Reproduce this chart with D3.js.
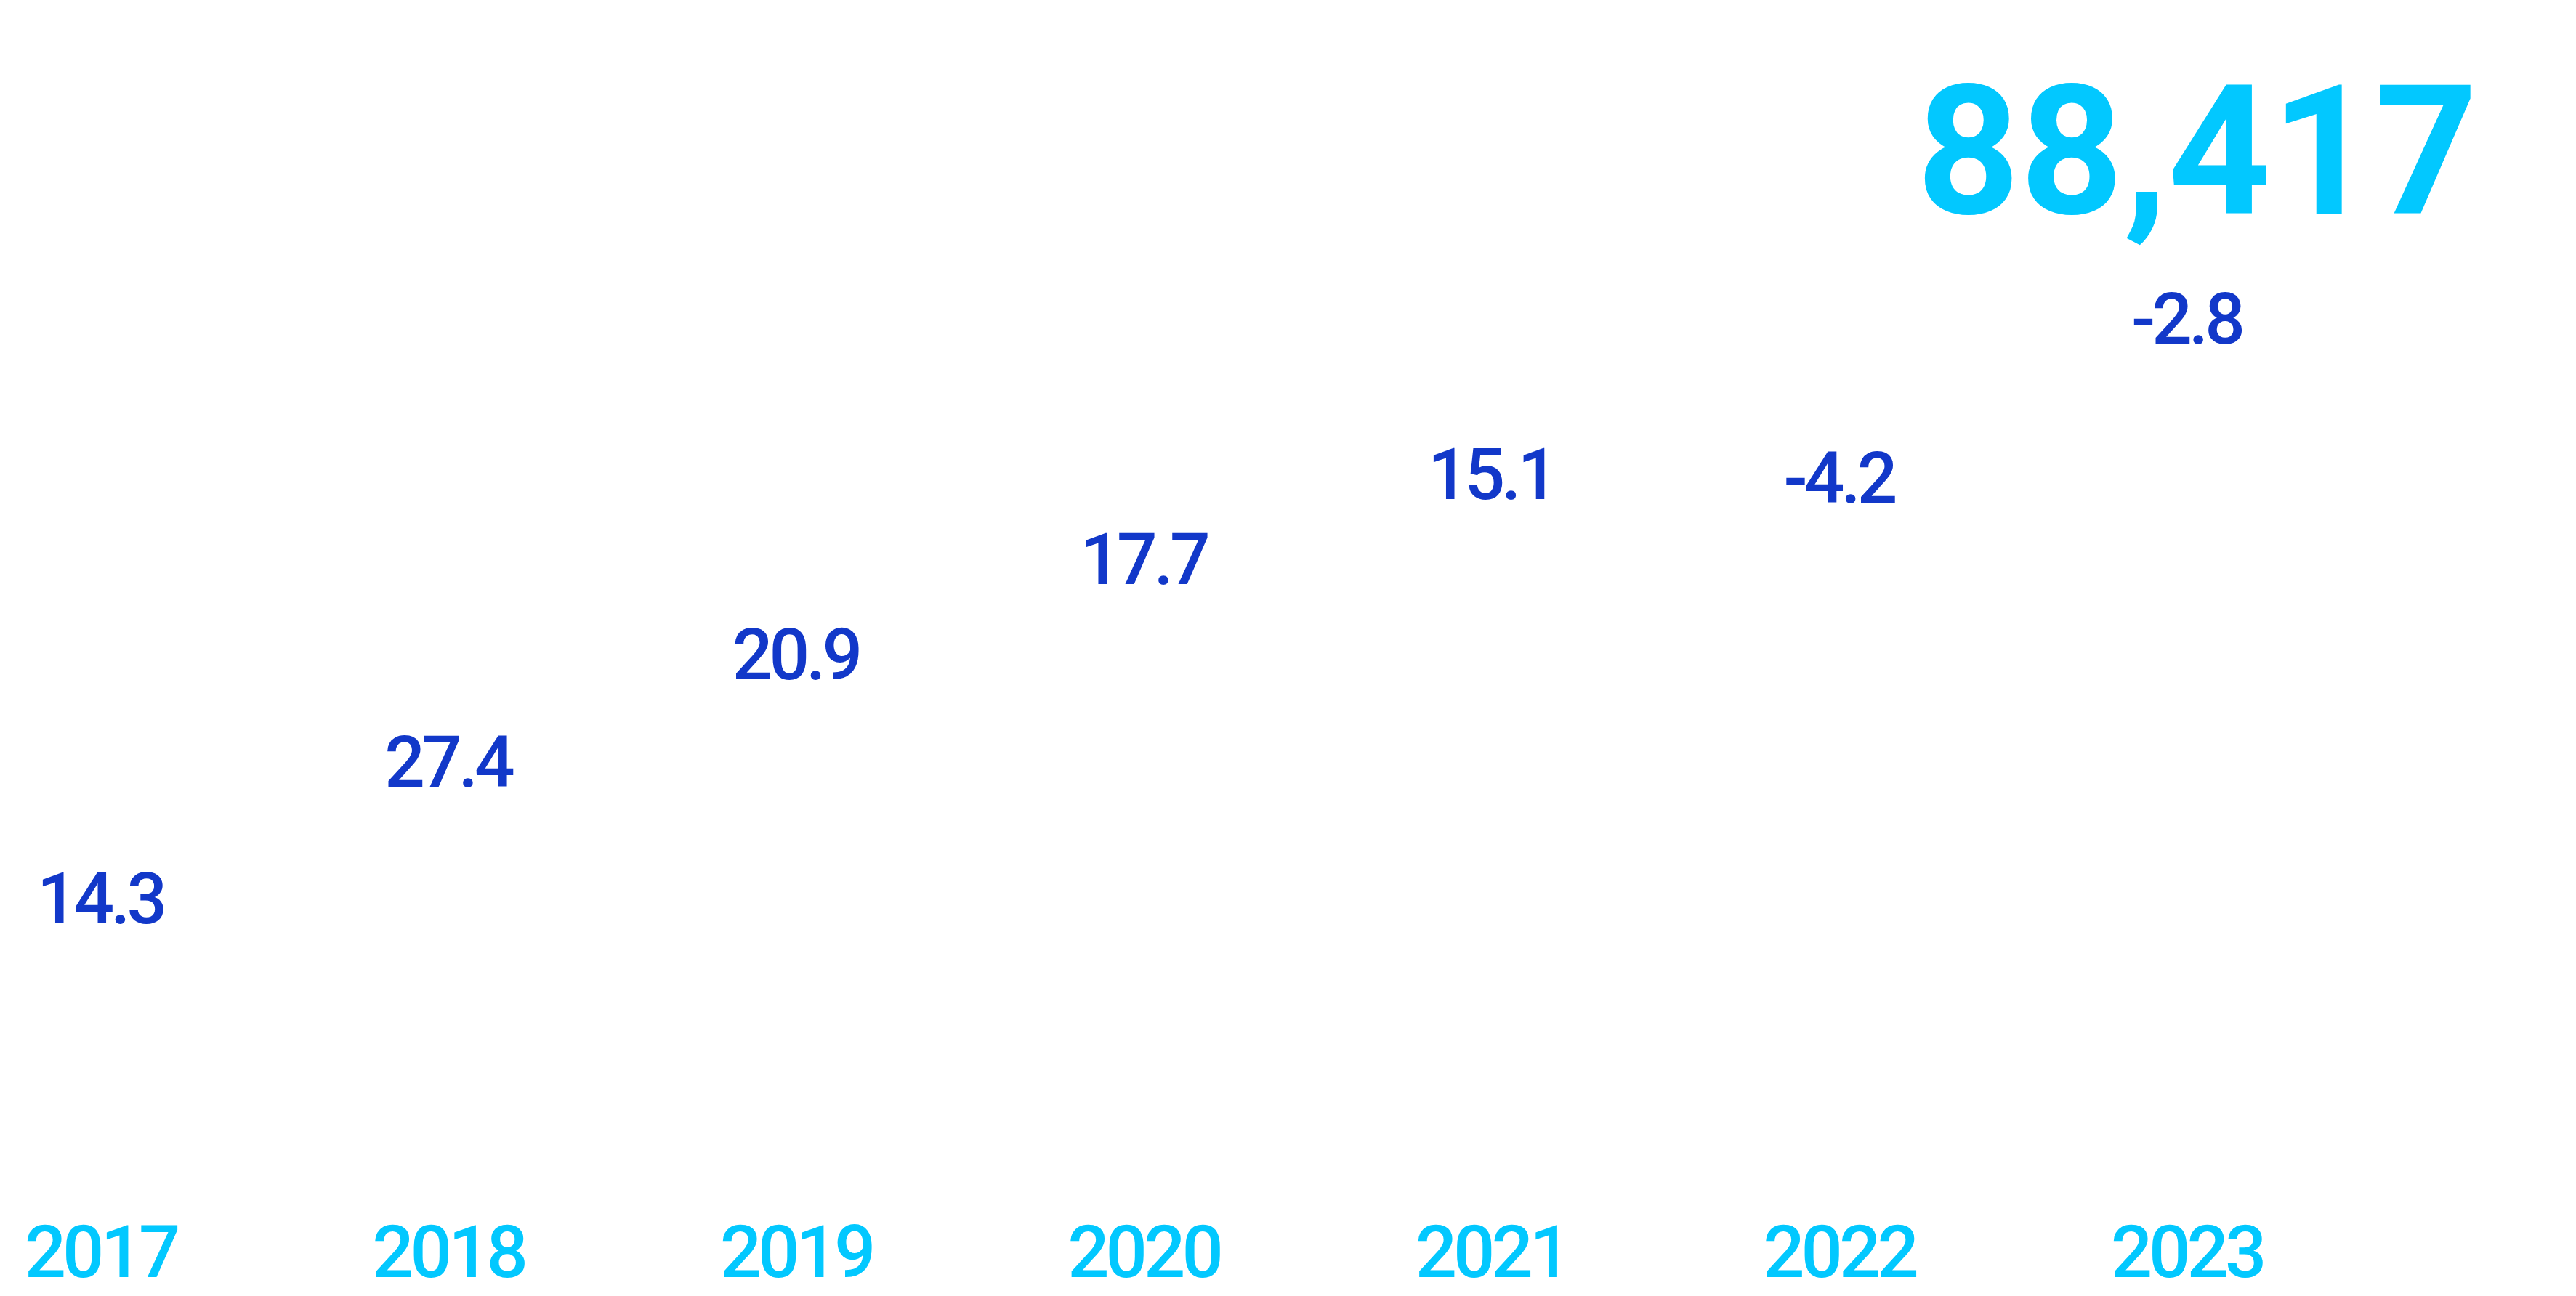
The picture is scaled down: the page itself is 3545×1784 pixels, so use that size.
<!DOCTYPE html>
<html>
<head>
<meta charset="utf-8">
<script src="https://cdn.jsdelivr.net/npm/d3@7"></script>
<style>
  html, body { margin: 0; padding: 0; background: #ffffff; }
  svg { display: block; }
</style>
</head>
<body>
<svg id="chart" width="3545" height="1784"></svg>
<script>
// ---- data ----
const years = ["2017", "2018", "2019", "2020", "2021", "2022", "2023"];
const growth = [14.3, 27.4, 20.9, 17.7, 15.1, -4.2, -2.8];
const barLevel = [29.6, 43.0, 53.6, 62.9, 71.3, 70.9, 86.6];
const headline = "88,417";

const W = 3545, H = 1784;
const svg = d3.select("#chart");

const x = d3.scalePoint().domain(years).range([138, 3009]);
const y = d3.scaleLinear().domain([0, 100]).range([1700, 300]);

const blue = "#1238C9";
const cyan = "#02C8FF";
const font = "Roboto, 'DejaVu Sans Condensed', sans-serif";

// invisible white bars
svg.append("g").selectAll("rect")
  .data(years)
  .join("rect")
  .attr("x", d => x(d) - 120)
  .attr("width", 240)
  .attr("y", (d, i) => y(barLevel[i]))
  .attr("height", (d, i) => y(0) - y(barLevel[i]))
  .attr("fill", "#ffffff");

// value labels
svg.append("g").selectAll("text")
  .data(years)
  .join("text")
  .attr("x", d => x(d))
  .attr("y", (d, i) => y(barLevel[i]) - 15)
  .attr("text-anchor", "middle")
  .attr("font-family", font)
  .attr("font-weight", 500)
  .attr("font-size", 98)
  .attr("letter-spacing", -5)
  .attr("fill", blue)
  .text((d, i) => d3.format(".1f")(growth[i]).replace("−", "-"));

// year axis labels
const xAxis = d3.axisBottom(x).tickSize(0).tickPadding(0);
const ax = svg.append("g").attr("transform", `translate(0, 1700)`).call(xAxis);
ax.select(".domain").remove();
ax.selectAll("text")
  .attr("y", 58)
  .attr("dy", null)
  .attr("font-family", font)
  .attr("font-weight", 500)
  .attr("font-size", 101)
  .attr("letter-spacing", -5)
  .attr("fill", cyan);

// headline number
svg.append("text")
  .attr("x", 3410)
  .attr("y", 294)
  .attr("text-anchor", "end")
  .attr("font-family", font)
  .attr("font-weight", 700)
  .attr("font-size", 248)
  .attr("fill", cyan)
  .text(headline);
</script>
</body>
</html>
